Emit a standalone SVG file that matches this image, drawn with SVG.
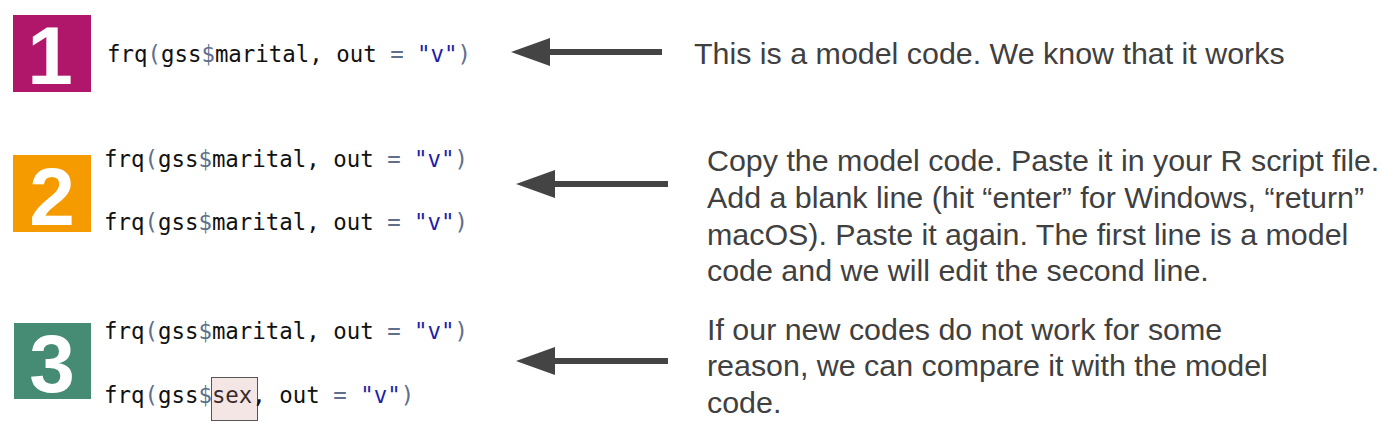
<svg xmlns="http://www.w3.org/2000/svg" width="1384" height="430" viewBox="0 0 1384 430">
<style>
.num{font-family:"Liberation Sans",Arial,sans-serif;font-weight:bold;font-size:82px;fill:#fff;text-anchor:middle}
.code{font-family:"DejaVu Sans Mono","Liberation Mono",monospace;font-size:22.4px;fill:#111}
.p{fill:#5E6F8C}
.s{fill:#1E1EA8}
.desc{font-family:"Liberation Sans",Arial,sans-serif;font-size:30.4px;fill:#404040}
.shaft{stroke:#444;stroke-width:6;fill:none}
</style>
<defs>
<marker id="head" markerUnits="userSpaceOnUse" markerWidth="44" markerHeight="32" viewBox="0 -16 44 32" refX="0" refY="0" orient="auto">
<path d="M0,-14 L39,0 L0,14 z" fill="#444"/>
</marker>
</defs>
<rect width="1384" height="430" fill="#fff"/>

<g id="step1">
<rect x="13" y="15" width="78" height="77" fill="#B0176A"/>
<text class="num" x="50" y="84">1</text>
<text class="code" x="107" y="62">frq<tspan class="p">(</tspan>gss<tspan class="p">$</tspan>marital, out <tspan class="p">=</tspan> <tspan class="s">"v"</tspan><tspan class="p">)</tspan></text>
</g>

<g id="step2">
<rect x="13" y="155" width="78" height="77" fill="#F59B00"/>
<text class="num" x="52" y="225">2</text>
<text class="code" x="104" y="167">frq<tspan class="p">(</tspan>gss<tspan class="p">$</tspan>marital, out <tspan class="p">=</tspan> <tspan class="s">"v"</tspan><tspan class="p">)</tspan></text>
<text class="code" x="104" y="230">frq<tspan class="p">(</tspan>gss<tspan class="p">$</tspan>marital, out <tspan class="p">=</tspan> <tspan class="s">"v"</tspan><tspan class="p">)</tspan></text>
</g>

<g id="step3">
<rect x="14" y="323" width="77" height="76" fill="#468B73"/>
<text class="num" x="52" y="392">3</text>
<text class="code" x="104" y="339">frq<tspan class="p">(</tspan>gss<tspan class="p">$</tspan>marital, out <tspan class="p">=</tspan> <tspan class="s">"v"</tspan><tspan class="p">)</tspan></text>
<rect x="211.5" y="377.5" width="46" height="43" fill="#F3E6E4" stroke="#555" stroke-width="1"/>
<text class="code" x="104" y="403">frq<tspan class="p">(</tspan>gss<tspan class="p">$</tspan><tspan fill="#3A2A2A">sex</tspan>, out <tspan class="p">=</tspan> <tspan class="s">"v"</tspan><tspan class="p">)</tspan></text>
</g>

<g id="connectors">
<line class="shaft" x1="662" y1="52" x2="550" y2="52" marker-end="url(#head)"/>
<line class="shaft" x1="668" y1="184" x2="555" y2="184" marker-end="url(#head)"/>
<line class="shaft" x1="668" y1="361" x2="555" y2="361" marker-end="url(#head)"/>
</g>

<g id="note1">
<text class="desc" x="694" y="64">This is a model code. We know that it works</text>
</g>

<g id="note2">
<text class="desc" x="707" y="171">Copy the model code. Paste it in your R script file.</text>
<text class="desc" x="707" y="208">Add a blank line (hit “enter” for Windows, “return”</text>
<text class="desc" x="707" y="245">macOS). Paste it again. The first line is a model</text>
<text class="desc" x="707" y="281">code and we will edit the second line.</text>
</g>

<g id="note3">
<text class="desc" x="707" y="340">If our new codes do not work for some</text>
<text class="desc" x="707" y="376">reason, we can compare it with the model</text>
<text class="desc" x="707" y="413">code.</text>
</g>
</svg>
